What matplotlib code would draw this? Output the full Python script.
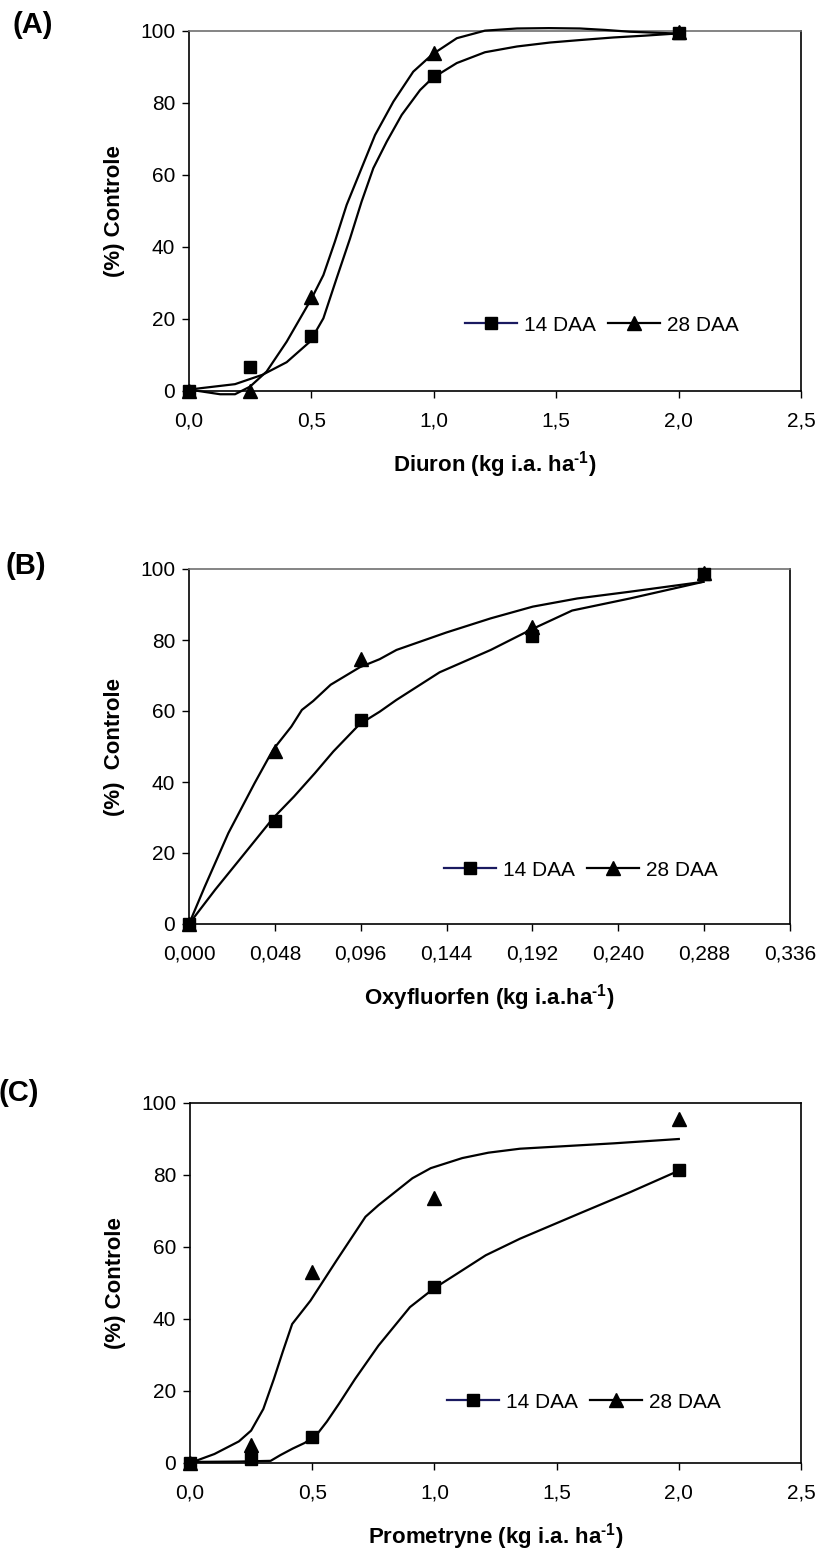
import matplotlib
matplotlib.use("Agg")
import matplotlib.pyplot as plt
from matplotlib.lines import Line2D

plt.rcParams['font.family'] = ['Liberation Sans', 'DejaVu Sans']
plt.rcParams['mathtext.fontset'] = 'custom'
plt.rcParams['mathtext.rm'] = 'Liberation Sans'
plt.rcParams['mathtext.bf'] = 'Liberation Sans:bold'

# ---------------- Panel A: Diuron ----------------
a_dose = [0.0, 0.25, 0.5, 1.0, 2.0]
a_14_obs = [0.0, 6.7, 15.4, 87.5, 99.5]
a_28_obs = [0.0, 0.0, 26.2, 93.8, 99.6]
a_14_fit_x = [0.0, 0.188, 0.30, 0.399, 0.494, 0.549, 0.603, 0.658, 0.705, 0.753, 0.808, 0.869,
              0.944, 0.994, 1.094, 1.209, 1.34, 1.475, 1.60, 1.733, 1.86, 1.992]
a_14_fit_y = [0.4, 1.9, 4.5, 8.0, 13.7, 20.2, 31.3, 42.4, 52.6, 61.9, 69.3, 76.7,
              83.6, 86.9, 91.1, 94.1, 95.7, 96.8, 97.5, 98.2, 98.7, 99.3]
a_28_fit_x = [0.0, 0.127, 0.188, 0.249, 0.317, 0.399, 0.5, 0.549, 0.596, 0.644, 0.699, 0.760,
              0.835, 0.916, 0.994, 1.094, 1.209, 1.34, 1.47, 1.597, 1.70, 1.80, 1.99]
a_28_fit_y = [0.4, -0.9, -0.9, 1.2, 5.4, 13.7, 25.6, 32.2, 41.5, 51.7, 60.9, 71.1,
              80.4, 88.7, 93.5, 98.0, 100.1, 100.7, 100.8, 100.7, 100.3, 99.8, 99.3]
a_xticks = [0.0, 0.5, 1.0, 1.5, 2.0, 2.5]
a_xticklabels = ['0,0', '0,5', '1,0', '1,5', '2,0', '2,5']

# ---------------- Panel B: Oxyfluorfen ----------------
b_dose = [0.0, 0.048, 0.096, 0.192, 0.288]
b_14_obs = [0.0, 28.9, 57.5, 81.0, 98.5]
b_28_obs = [0.0, 48.6, 74.6, 83.8, 98.8]
b_14_fit_x = [0.0, 0.0147, 0.030, 0.047, 0.0587, 0.0704, 0.0807, 0.0954, 0.1066, 0.1159,
              0.1401, 0.1687, 0.1907, 0.2142, 0.2465, 0.2876]
b_14_fit_y = [0.0, 9.7, 19.2, 29.8, 35.9, 42.5, 48.6, 56.3, 59.8, 63.1,
              70.9, 77.2, 82.8, 88.3, 91.7, 96.4]
b_28_fit_x = [0.0, 0.0088, 0.022, 0.0367, 0.047, 0.0572, 0.0631, 0.0694, 0.0792, 0.0954,
              0.1066, 0.116, 0.1438, 0.1687, 0.1922, 0.2171, 0.2465, 0.2876]
b_28_fit_y = [0.0, 10.5, 25.6, 39.7, 49.1, 55.6, 60.3, 62.8, 67.4, 72.3,
              74.6, 77.2, 82.1, 86.1, 89.4, 91.7, 93.6, 96.4]
b_xticks = [0.0, 0.048, 0.096, 0.144, 0.192, 0.240, 0.288, 0.336]
b_xticklabels = ['0,000', '0,048', '0,096', '0,144', '0,192', '0,240', '0,288', '0,336']

# ---------------- Panel C: Prometryne ----------------
c_dose = [0.0, 0.25, 0.5, 1.0, 2.0]
c_14_obs = [0.0, 1.0, 7.2, 48.8, 81.4]
c_28_obs = [0.0, 5.0, 53.0, 73.7, 95.5]
c_14_fit_x = [0.0, 0.2, 0.33, 0.37, 0.42, 0.47, 0.52, 0.56, 0.61, 0.675, 0.771, 0.9, 0.996,
              1.093, 1.21, 1.35, 1.6, 1.8, 1.99]
c_14_fit_y = [0.3, 0.4, 0.6, 2.2, 4.0, 5.6, 8.0, 11.5, 16.5, 23.3, 32.6, 43.3, 48.4,
              52.6, 57.7, 62.3, 69.5, 75.2, 80.9]
c_28_fit_x = [0.0, 0.1, 0.2, 0.25, 0.3, 0.343, 0.38, 0.418, 0.493, 0.6, 0.718, 0.771, 0.91,
              0.985, 1.114, 1.221, 1.35, 1.735, 2.0]
c_28_fit_y = [0.0, 2.5, 6.0, 9.0, 15.0, 23.3, 31.0, 38.6, 45.1, 56.3, 68.4, 71.6, 79.1,
              81.9, 84.7, 86.2, 87.3, 88.8, 90.0]
c_xticks = [0.0, 0.5, 1.0, 1.5, 2.0, 2.5]
c_xticklabels = ['0,0', '0,5', '1,0', '1,5', '2,0', '2,5']

yticks = [0, 20, 40, 60, 80, 100]
series_names = ['14 DAA', '28 DAA']

W, H = 822, 1550
fig = plt.figure(figsize=(W / 100, H / 100), dpi=100)


def px_axes(left, right, top, bottom):
    return fig.add_axes([left / W, 1 - bottom / H, (right - left) / W, (bottom - top) / H])


SUP = r'$^{\mathbf{\u2010' + '1}}$'
SUP = '$^{\\mathbf{\u2010' + '1}}$'

panels = [
    dict(box=(189, 801, 31, 391), dose=a_dose, o14=a_14_obs, o28=a_28_obs,
         f14=(a_14_fit_x, a_14_fit_y), f28=(a_28_fit_x, a_28_fit_y),
         xt=a_xticks, xtl=a_xticklabels, xlim=(0, 2.5),
         xlabel='Diuron (kg i.a. ha' + SUP + ')', ylabel='(%) Controle',
         tag='(A)', tagpos=(12, 25), leg=(0.675, 0.183), topc='#707070'),
    dict(box=(189, 790, 569, 924), dose=b_dose, o14=b_14_obs, o28=b_28_obs,
         f14=(b_14_fit_x, b_14_fit_y), f28=(b_28_fit_x, b_28_fit_y),
         xt=b_xticks, xtl=b_xticklabels, xlim=(0, 0.336),
         xlabel='Oxyfluorfen (kg i.a.ha' + SUP + ')', ylabel='(%)  Controle',
         tag='(B)', tagpos=(5, 566), leg=(0.652, 0.152), topc='#707070'),
    dict(box=(190, 801, 1103, 1463), dose=c_dose, o14=c_14_obs, o28=c_28_obs,
         f14=(c_14_fit_x, c_14_fit_y), f28=(c_28_fit_x, c_28_fit_y),
         xt=c_xticks, xtl=c_xticklabels, xlim=(0, 2.5),
         xlabel='Prometryne (kg i.a. ha' + SUP + ')', ylabel='(%) Controle',
         tag='(C)', tagpos=(-1, 1093), leg=(0.645, 0.169), topc='black'),
]

for p in panels:
    l, r, t, b = p['box']
    ax = px_axes(l, r, t, b)
    ax.set_xlim(*p['xlim'])
    ax.set_ylim(0, 100)
    ax.plot(p['f14'][0], p['f14'][1], color='black', lw=1.6, clip_on=False, zorder=3)
    ax.plot(p['f28'][0], p['f28'][1], color='black', lw=1.6, clip_on=False, zorder=3)
    ax.plot(p['dose'], p['o14'], ls='none', marker='s', ms=8.5, color='black',
            clip_on=False, zorder=4)
    ax.plot(p['dose'], p['o28'], ls='none', marker='^', ms=9.5, color='black',
            clip_on=False, zorder=4)
    ax.set_xticks(p['xt'])
    ax.set_xticklabels(p['xtl'])
    ax.set_yticks(yticks)
    ax.set_yticklabels([str(v) for v in yticks])
    ax.tick_params(axis='both', direction='out', length=5, width=1.0, labelsize=15,
                   colors='black')
    ax.tick_params(axis='x', pad=10)
    ax.tick_params(axis='y', pad=5)
    for s in ax.spines.values():
        s.set_linewidth(1.2)
        s.set_color('black')
    ax.spines['top'].set_color(p['topc'])
    ax.set_xlabel(p['xlabel'], fontsize=16, fontweight='bold')
    ax.xaxis.set_label_coords(0.5, -74 / (b - t))
    ax.xaxis.label.set_va('center')
    ax.set_ylabel(p['ylabel'], fontsize=16, fontweight='bold')
    ax.yaxis.set_label_coords(-75 / (r - l), 0.5)
    ax.yaxis.label.set_va('center')
    handles = [
        Line2D([], [], color='#1a1a60', lw=1.6, marker='s', ms=8.5,
               markerfacecolor='black', markeredgecolor='black'),
        Line2D([], [], color='black', lw=1.6, marker='^', ms=9.5),
    ]
    ax.legend(handles, series_names, loc='center', bbox_to_anchor=p['leg'], ncol=2,
              frameon=False, fontsize=15, handlelength=2.5, handletextpad=0.33,
              columnspacing=0.6, borderpad=0.0)
    fig.text(p['tagpos'][0] / W, 1 - p['tagpos'][1] / H, p['tag'], fontsize=21,
             fontweight='bold', ha='left', va='center')

fig.savefig('out.png', dpi=100)
